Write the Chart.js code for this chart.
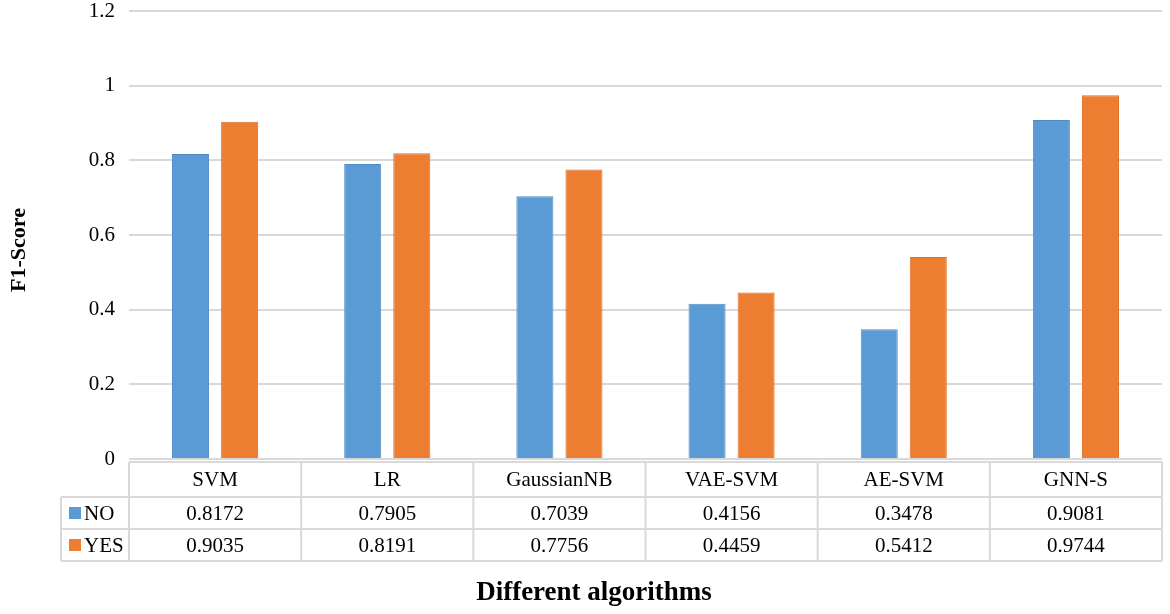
<!DOCTYPE html>
<html><head><meta charset="utf-8">
<script src="https://cdn.jsdelivr.net/npm/chart.js@4"></script>
<style>html,body{margin:0;padding:0;background:#fff}#wrap{width:1170px;height:614px}</style>
</head><body><div id="wrap"><canvas id="c" width="1170" height="614"></canvas></div>
<script>
const categories = ["SVM","LR","GaussianNB","VAE-SVM","AE-SVM","GNN-S"];
const seriesNames = ["NO","YES"];
const noValues = [0.8172,0.7905,0.7039,0.4156,0.3478,0.9081];
const yesValues = [0.9035,0.8191,0.7756,0.4459,0.5412,0.9744];
const yTicks = [0,0.2,0.4,0.6,0.8,1,1.2];
const colors = ["#5B9BD5","#ED7D31"];
const borders = ["#4F8CC6","#DE7129"];
const FONT = "'Liberation Serif','Times New Roman',serif";

const tablePlugin = {
  id:'dataTable',
  afterDraw(chart){
    const ctx = chart.ctx, x = chart.scales.x, area = chart.chartArea;
    const n = categories.length;
    const left = area.left, right = area.right;
    const w = (right-left)/n;
    const t0 = area.bottom+3, t1 = t0+35, t2 = t1+32, t3 = t2+32;
    const lx = 61;
    ctx.save();
    ctx.strokeStyle = "#d9d9d9"; ctx.lineWidth = 2;
    ctx.beginPath();
    ctx.moveTo(left,t0); ctx.lineTo(right,t0);
    ctx.moveTo(lx,t1); ctx.lineTo(right,t1);
    ctx.moveTo(lx,t2); ctx.lineTo(right,t2);
    ctx.moveTo(lx,t3); ctx.lineTo(right,t3);
    ctx.moveTo(lx,t1); ctx.lineTo(lx,t3);
    for(let i=0;i<=n;i++){const xx=left+i*w; ctx.moveTo(xx,t0); ctx.lineTo(xx,t3);}
    ctx.stroke();
    ctx.fillStyle="#000"; ctx.font="21px "+FONT; ctx.textAlign="center"; ctx.textBaseline="middle";
    const rows=[noValues,yesValues];
    for(let i=0;i<n;i++){
      const cx = x.getPixelForValue(i);
      ctx.fillText(categories[i],cx,(t0+t1)/2+1);
      ctx.fillText(rows[0][i].toFixed(4),cx,(t1+t2)/2+1);
      ctx.fillText(rows[1][i].toFixed(4),cx,(t2+t3)/2+1);
    }
    ctx.textAlign="left";
    [[t1,t2],[t2,t3]].forEach((r,k)=>{
      const cy=(r[0]+r[1])/2;
      ctx.fillStyle=colors[k]; ctx.fillRect(69,cy-6,12,12);
      ctx.fillStyle="#000"; ctx.fillText(seriesNames[k],84,cy+1);
    });
    ctx.font="bold 27px "+FONT; ctx.textAlign="center";
    ctx.fillText("Different algorithms",594,593);
    ctx.translate(19,250); ctx.rotate(-Math.PI/2);
    ctx.font="bold 22px "+FONT;
    ctx.fillText("F1-Score",0,0);
    ctx.restore();
  }
};

new Chart(document.getElementById('c'),{
  type:'bar',
  data:{labels:categories,datasets:[
    {label:seriesNames[0],data:noValues,backgroundColor:colors[0],borderColor:borders[0],borderWidth:1,categoryPercentage:0.57,barPercentage:0.755},
    {label:seriesNames[1],data:yesValues,backgroundColor:colors[1],borderColor:borders[1],borderWidth:1,categoryPercentage:0.57,barPercentage:0.755}
  ]},
  options:{
    responsive:false,animation:false,
    layout:{padding:{top:11,right:8,bottom:155,left:0}},
    plugins:{legend:{display:false},tooltip:{enabled:false}},
    scales:{
      x:{display:false},
      y:{min:0,max:1.2,
        afterFit(s){s.width=129;s.paddingTop=0;s.paddingBottom=0;},
        afterBuildTicks(s){s.ticks=yTicks.map(v=>({value:v}));},
        ticks:{color:"#000",font:{family:FONT,size:21},padding:14,callback:v=>String(v)},
        grid:{color:"#d9d9d9",lineWidth:2,drawTicks:false},
        border:{display:false}
      }
    }
  },
  plugins:[tablePlugin]
});
</script></body></html>
